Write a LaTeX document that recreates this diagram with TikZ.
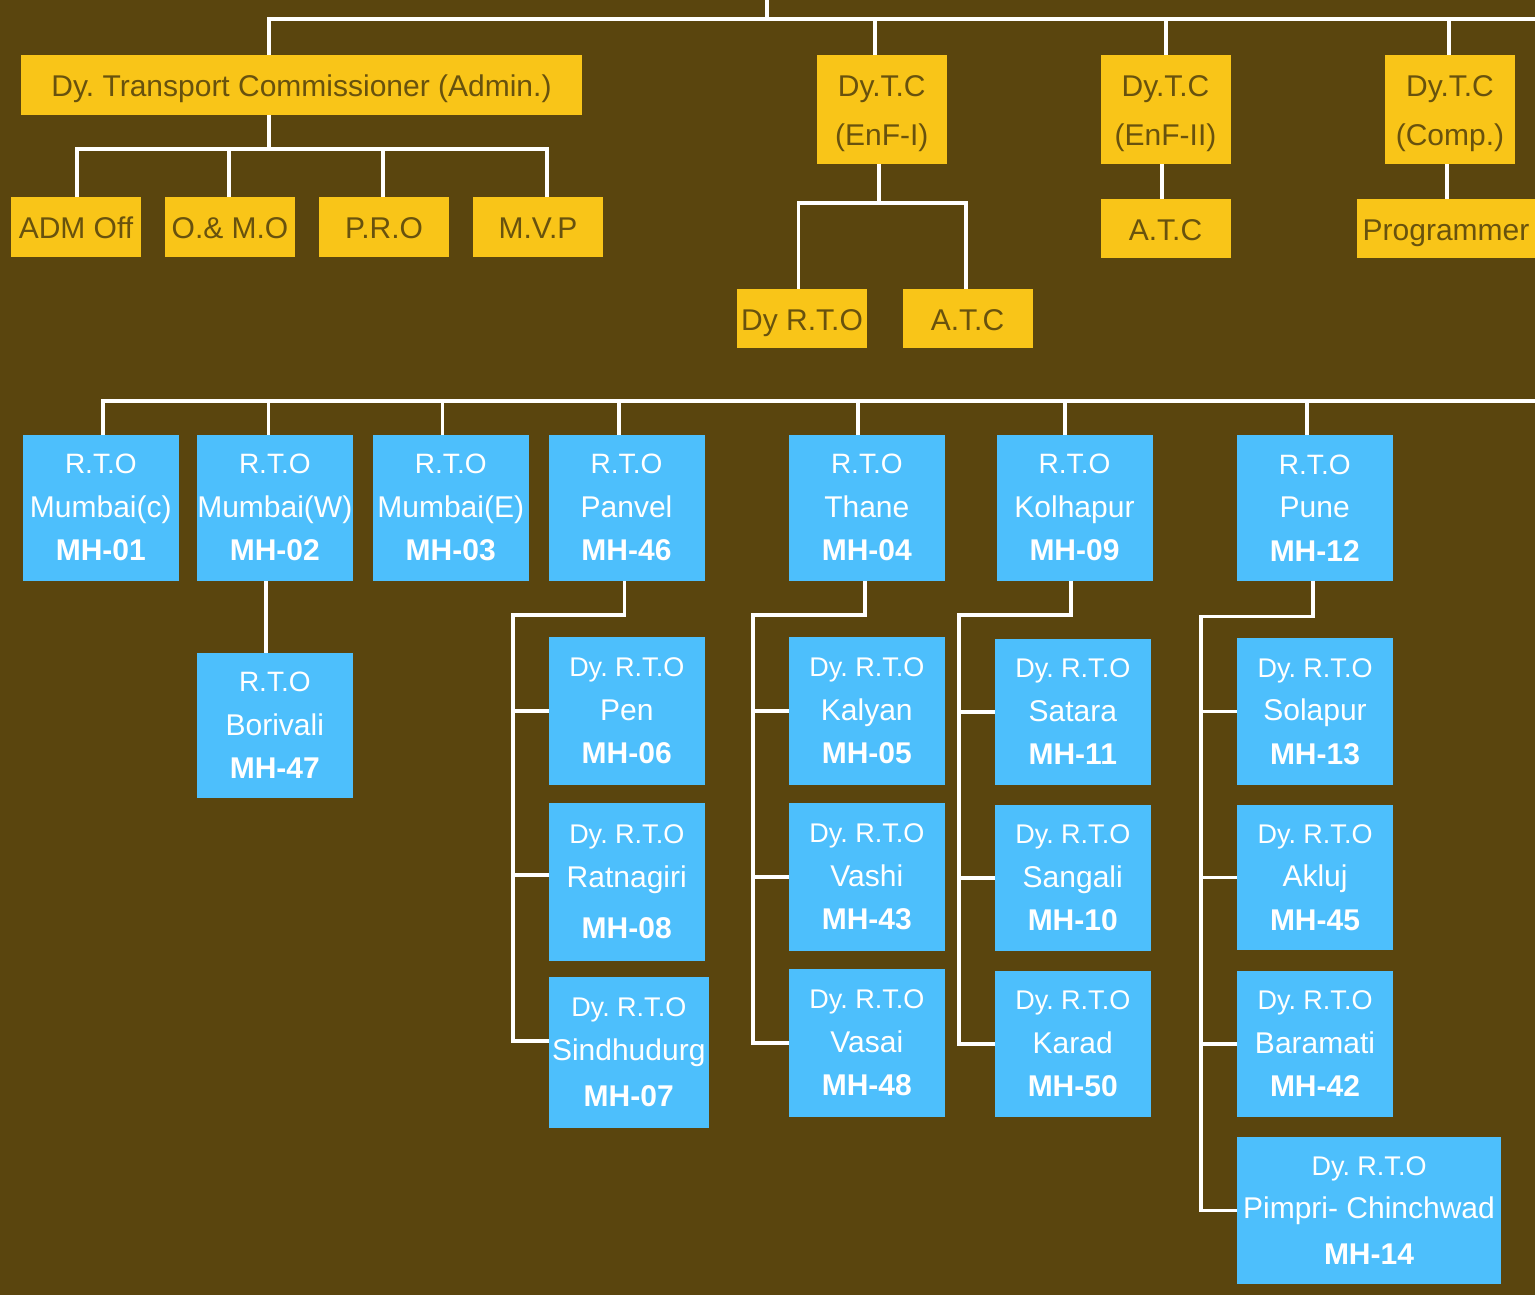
\documentclass[tikz,border=0pt]{standalone}
\usepackage{fontspec}
\setmainfont{Liberation Sans}
\definecolor{bg}{RGB}{90,69,14}
\definecolor{gold}{RGB}{249,197,24}
\definecolor{goldtext}{RGB}{104,82,14}
\definecolor{sky}{RGB}{77,191,252}
\newcommand\RTOline{{\fontsize{28}{43.5}\selectfont R.T.O}}
\newcommand\DyRTOline{{\fontsize{27}{44}\selectfont Dy. R.T.O}}
\newcommand\mhcode[1]{\textbf{MH-#1}}
\newcommand\toprule{\rule{0pt}{29.5pt}}
\frenchspacing
\begin{document}
\frenchspacing
\begin{tikzpicture}[x=1pt,y=-1pt,
  wire/.style={draw=white,line width=3.5pt},
  gbox/.style={fill=gold,text=goldtext,inner sep=0pt,minimum width=130pt,minimum height=60pt,
    align=center,font=\fontsize{30}{49}\selectfont},
  gline/.style={gbox,text height=23.5pt,text depth=0pt},
  bbox/.style={fill=sky,text=white,inner sep=0pt,minimum width=156pt,minimum height=146pt,
    align=center,font=\fontsize{30}{43.5}\selectfont},
  ]
\fill[bg] (0,0) rectangle (1535,1295);
\useasboundingbox (0,0) rectangle (1535,1295);

% ---- upper chart: deputy commissioners ----
\node[gline,minimum width=561pt] (admin) at (301.5,85) {Dy. Transport Commissioner (Admin.)};
\node[gline] (admoff) at (76,227) {ADM Off};
\node[gline] (om) at (230,227) {O.\& M.O};
\node[gline] (pro) at (384,227) {P.R.O};
\node[gline] (mvp) at (538,227) {M.V.P};
\node[gbox,minimum width=129.5pt,minimum height=109pt] (enf1) at (881.75,109.5) {\toprule Dy.T.C\\(EnF-I)};
\node[gbox,minimum height=109pt] (enf2) at (1165.5,109.5) {\toprule Dy.T.C\\(EnF-II)};
\node[gbox,minimum height=109pt] (comp) at (1450,109.5) {\toprule Dy.T.C\\(Comp.)};
\node[gline,minimum height=59pt] (dyrto) at (802,318.5) {Dy R.T.O};
\node[gline,minimum height=59pt] (atc1) at (967.5,318.5) {A.T.C};
\node[gline,minimum height=59pt] (atc2) at (1165.5,228.5) {A.T.C};
\node[gline,minimum width=178pt,minimum height=59pt] (prog) at (1446,228.5) {Programmer};

\coordinate (apex) at (767,0);
\coordinate (busA) at (0,19);
\coordinate (busAend) at (1535,19);
\coordinate (busB) at (0,149);
\coordinate (busC) at (0,203);

\draw[wire] ([xshift=-32.5pt]admin.north) |- (busAend);
\draw[wire] (apex) -- (apex |- busA);
\draw[wire] ([xshift=-6.75pt]enf1.north) -- ([xshift=-6.75pt]enf1.north |- busA);
\draw[wire] ([xshift=0.5pt]enf2.north) -- ([xshift=0.5pt]enf2.north |- busA);
\draw[wire] ([xshift=-1pt]comp.north) -- ([xshift=-1pt]comp.north |- busA);

\draw[wire] ([xshift=-32.5pt]admin.south) -- ([xshift=-32.5pt]admin.south |- busB);
\draw[wire] ([xshift=1pt]admoff.north) |- ([xshift=9pt]mvp.north |- busB) -- ([xshift=9pt]mvp.north);
\draw[wire] ([xshift=-1pt]om.north) -- ([xshift=-1pt]om.north |- busB);
\draw[wire] ([xshift=-1pt]pro.north) -- ([xshift=-1pt]pro.north |- busB);

\draw[wire] ([xshift=-2.75pt]enf1.south) -- ([xshift=-2.75pt]enf1.south |- busC);
\draw[wire] ([xshift=-3.5pt]dyrto.north) |- ([xshift=-1.5pt]atc1.north |- busC) -- ([xshift=-1.5pt]atc1.north);
\draw[wire] ([xshift=-3.5pt]enf2.south) -- ([xshift=-3.5pt]enf2.south |- atc2.north);
\draw[wire] ([xshift=-3pt]comp.south) -- ([xshift=-3pt]comp.south |- prog.north);

% ---- lower chart: regional transport offices ----
\node[bbox] (mc) at (100.8,507.75) {\RTOline\\Mumbai(c)\\\mhcode{01}};
\node[bbox] (mw) at (274.8,507.75) {\RTOline\\Mumbai(W)\\\mhcode{02}};
\node[bbox] (me) at (450.75,507.75) {\RTOline\\Mumbai(E)\\\mhcode{03}};
\node[bbox] (pan) at (626.5,507.75) {\RTOline\\Panvel\\\mhcode{46}};
\node[bbox] (tha) at (866.8,507.75) {\RTOline\\Thane\\\mhcode{04}};
\node[bbox] (kol) at (1074.5,507.75) {\RTOline\\Kolhapur\\\mhcode{09}};
\node[bbox] (pun) at (1314.75,507.75) {\RTOline\\Pune\\\mhcode{12}};

\node[bbox,minimum height=145pt] (bor) at (274.8,725.5) {\RTOline\\Borivali\\\mhcode{47}};

\node[bbox,minimum height=148pt] (pen) at (626.75,711) {\DyRTOline\\Pen\\\mhcode{06}};
\node[bbox,minimum height=158pt] (rat) at (626.75,882) {\DyRTOline\\Ratnagiri\\[8pt]\mhcode{08}};
\node[bbox,minimum width=159.5pt,minimum height=151pt] (sin) at (628.75,1052.5) {\DyRTOline\\Sindhudurg\\[3pt]\mhcode{07}};

\node[bbox,minimum height=148pt] (kal) at (866.8,711) {\DyRTOline\\Kalyan\\\mhcode{05}};
\node[bbox,minimum height=148pt] (vas) at (866.8,877) {\DyRTOline\\Vashi\\\mhcode{43}};
\node[bbox,minimum height=148pt] (vsi) at (866.8,1043) {\DyRTOline\\Vasai\\\mhcode{48}};

\node[bbox] (sat) at (1072.75,712) {\DyRTOline\\Satara\\\mhcode{11}};
\node[bbox] (san) at (1072.75,878) {\DyRTOline\\Sangali\\\mhcode{10}};
\node[bbox] (kar) at (1072.75,1044) {\DyRTOline\\Karad\\\mhcode{50}};

\node[bbox,minimum height=147pt] (sol) at (1315,711.5) {\DyRTOline\\Solapur\\\mhcode{13}};
\node[bbox,minimum height=145pt] (akl) at (1315,877.5) {\DyRTOline\\Akluj\\\mhcode{45}};
\node[bbox] (bar) at (1315,1044) {\DyRTOline\\Baramati\\\mhcode{42}};
\node[bbox,minimum width=264pt,minimum height=147pt] (pim) at (1369,1210.5) {\DyRTOline\\Pimpri- Chinchwad\\[2pt]\mhcode{14}};

\coordinate (busD) at (0,401);
\coordinate (busDend) at (1535,401);
\draw[wire] ([xshift=2.2pt]mc.north) |- (busDend);
\draw[wire] ([xshift=-6.2pt]mw.north) -- ([xshift=-6.2pt]mw.north |- busD);
\draw[wire] ([xshift=-8.15pt]me.north) -- ([xshift=-8.15pt]me.north |- busD);
\draw[wire] ([xshift=-7.5pt]pan.north) -- ([xshift=-7.5pt]pan.north |- busD);
\draw[wire] ([xshift=-8.8pt]tha.north) -- ([xshift=-8.8pt]tha.north |- busD);
\draw[wire] ([xshift=-9.5pt]kol.north) -- ([xshift=-9.5pt]kol.north |- busD);
\draw[wire] ([xshift=-7.75pt]pun.north) -- ([xshift=-7.75pt]pun.north |- busD);

\draw[wire] ([xshift=-8.8pt]mw.south) -- ([xshift=-8.8pt]mw.south |- bor.north);

% Panvel branch
\coordinate (panS) at (513,615);
\draw[wire] ([xshift=-2pt]pan.south) |- (panS) |- ([yshift=11.5pt]sin.west);
\draw[wire] (panS |- pen.west) -- (pen.west);
\draw[wire] ([yshift=7pt]rat.west -| panS) -- ([yshift=7pt]rat.west);

% Thane branch
\coordinate (thaS) at (753,615);
\draw[wire] ([xshift=-1.8pt]tha.south) |- (thaS) |- (vsi.west);
\draw[wire] (thaS |- kal.west) -- (kal.west);
\draw[wire] (thaS |- vas.west) -- (vas.west);

% Kolhapur branch
\coordinate (kolS) at (959,615);
\draw[wire] ([xshift=-3.5pt]kol.south) |- (kolS) |- (kar.west);
\draw[wire] (kolS |- sat.west) -- (sat.west);
\draw[wire] (kolS |- san.west) -- (san.west);

% Pune branch
\coordinate (punS) at (1201,616.5);
\draw[wire] ([xshift=-1.75pt]pun.south) |- (punS) |- (pim.west);
\draw[wire] (punS |- sol.west) -- (sol.west);
\draw[wire] (punS |- akl.west) -- (akl.west);
\draw[wire] (punS |- bar.west) -- (bar.west);
\end{tikzpicture}
\end{document}
